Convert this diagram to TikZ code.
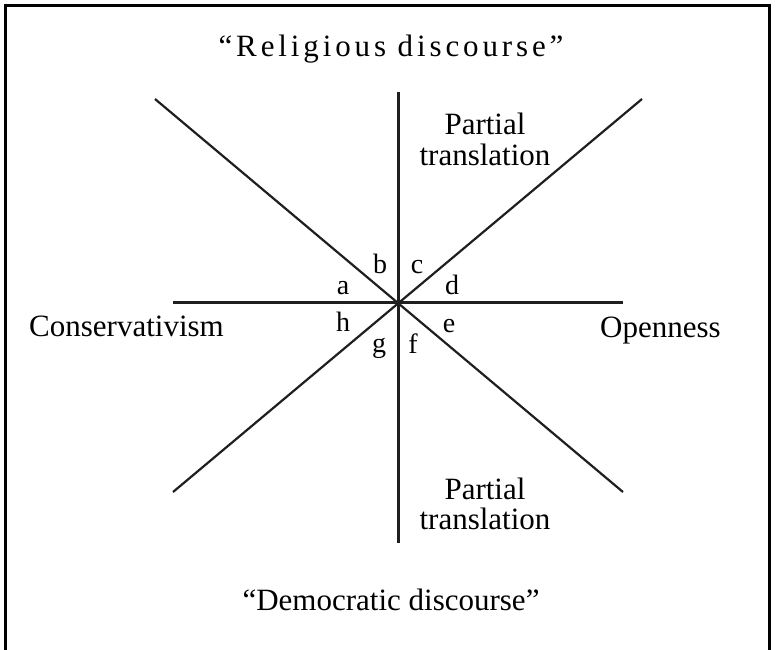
\documentclass[tikz,border=0pt]{standalone}
\usepackage{fontspec}
\setmainfont{Liberation Serif}
\begin{document}
\begin{tikzpicture}[x=1pt,y=-1pt,
  axisline/.style={line width=3pt, draw=black!88},
  diagline/.style={line width=2.2pt, draw=black!88},
  frameline/.style={line width=3pt, draw=black},
  txt/.style={font=\fontsize{31}{32}\selectfont, inner sep=0pt, anchor=base},
  lbl/.style={font=\fontsize{28}{30}\selectfont, inner sep=0pt, anchor=base}]
\useasboundingbox (0,0) rectangle (781,649);
\coordinate (F1) at (5,660);
\coordinate (F2) at (5,5);
\coordinate (F3) at (769,5);
\coordinate (F4) at (769,660);
\draw[frameline] (F1) -- (F2) -- (F3) -- (F4);
\coordinate (O) at (398,302);
\coordinate (T) at (398,92);
\coordinate (B) at (398,543);
\coordinate (L) at (173,302);
\coordinate (R) at (623,302);
\coordinate (UL) at (155,99);
\coordinate (LR) at (623,492);
\coordinate (UR) at (642,99);
\coordinate (LL) at (173,492);
\draw[axisline] (T) -- (B);
\draw[axisline] (L) -- (R);
\draw[diagline] (UL) -- (LR);
\draw[diagline] (UR) -- (LL);
\node[txt] (rel) at (391,56) {\addfontfeature{LetterSpace=12.5}“Religious discourse”};
\node[txt] (dem) at (391,610) {“Democratic discourse”};
\node[txt, anchor=base west] (con) at (29,336) {Conservativism};
\node[txt, anchor=base west] (ope) at (600,337) {Openness};
\node[txt] (pt1) at (485,134) {Partial};
\node[txt] (pt2) at (485,165) {translation};
\node[txt] (pb1) at (485,499) {Partial};
\node[txt] (pb2) at (485,529) {translation};
\node[lbl] (la) at (343,294) {a};
\node[lbl] (lb) at (380,273) {b};
\node[lbl] (lc) at (417,273) {c};
\node[lbl] (ld) at (452,294) {d};
\node[lbl] (le) at (449,332) {e};
\node[lbl] (lf) at (413,353) {f};
\node[lbl] (lg) at (379,352) {g};
\node[lbl] (lh) at (343,331) {h};
\end{tikzpicture}
\end{document}
